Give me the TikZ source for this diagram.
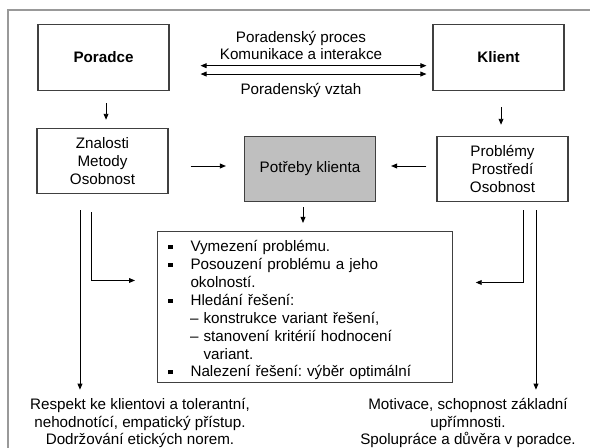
\documentclass[tikz,border=0pt]{standalone}
\usepackage{fontspec}
\setmainfont{Liberation Sans}
\usepackage{enumitem}
\usetikzlibrary{positioning,arrows.meta}
\frenchspacing

\begin{document}
\begin{tikzpicture}[x=0.75pt,y=-0.75pt,font=\fontsize{11.4}{13.4}\selectfont,
  >={Triangle[length=4.5pt,width=3.6pt]},
  box/.style={draw=black!75,line width=0.8pt,align=center,minimum width=98.25pt,minimum height=49pt,inner sep=0pt},
  link/.style={->,line width=0.7pt},
  lbl/.style={align=center,inner sep=0pt}]
\useasboundingbox (0,0) rectangle (590,448);
\draw[black!40,line width=1.2pt] (8,470) -- (8,10) -- (610,10);

\node[box] (poradce) at (103.5,57.5) {\textbf{Poradce}};
\node[box] (klient) at (498.5,57.5) {\textbf{Klient}};
\node[lbl] (proces) at (301,45.5) {Poradenský proces\\Komunikace a interakce};
\node[lbl] (vztah) at (301,90) {Poradenský vztah};
\node[box] (znalosti) at (102.5,161) {Znalosti\\Metody\\Osobnost};
\node[box,fill=black!25] (potreby) at (310,169) {Potřeby klienta};
\node[box] (problemy) at (502.5,169) {Problémy\\Prostředí\\Osobnost};
\node[draw=black!75,line width=0.8pt,anchor=north west,text width=213pt,minimum height=113.25pt,
  inner xsep=4pt,inner ysep=0pt] (reseni) at (157,231) {%
  \begin{itemize}[nosep,leftmargin=20.75pt,labelsep=13.5pt,label={\rule[2pt]{3.2pt}{3.2pt}}]
  \item Vymezení problému.
  \item Posouzení problému a jeho\newline okolností.
  \item Hledání řešení:
    \begin{itemize}[nosep,leftmargin=9.75pt,labelsep=3.75pt,label=--]
    \item konstrukce variant řešení,
    \item stanovení kritérií hodnocení\newline variant.
    \end{itemize}
  \item Nalezení řešení: výběr optimální
  \end{itemize}};
\node[lbl] (respekt) at (140,423) {Respekt ke klientovi a tolerantní,\\nehodnotící, empatický přístup.\\Dodržování etických norem.};
\node[lbl] (motivace) at (468,423) {Motivace, schopnost základní\\upřímnosti.\\Spolupráce a důvěra v poradce.};

\draw[<->,line width=0.7pt,shorten <=23.25pt,shorten >=4.5pt] ([yshift=-6.15pt]poradce.east) -- ([yshift=-6.15pt]klient.west);
\draw[<->,line width=0.7pt,shorten <=23.25pt,shorten >=4.5pt] ([yshift=-12.4pt]poradce.east) -- ([yshift=-12.4pt]klient.west);
\draw[link,shorten <=9.6pt,shorten >=6pt] ([xshift=1.9pt]poradce.south) -- ([xshift=1.9pt]poradce.south |- znalosti.north);
\draw[link,shorten <=12.5pt,shorten >=8.25pt] ([xshift=1.9pt]klient.south) -- ([xshift=1.9pt]klient.south |- problemy.north);
\draw[link,shorten <=16.5pt,shorten >=13.5pt] ([yshift=-3.75pt]znalosti.east) -- ([yshift=-3.75pt]znalosti.east -| potreby.west);
\draw[link,shorten <=7.5pt,shorten >=11.25pt] ([yshift=2.25pt]problemy.west) -- ([yshift=2.25pt]problemy.west -| potreby.east);
\draw[link,shorten <=3.75pt,shorten >=6pt] ([xshift=-5.25pt]potreby.south) -- ([xshift=-5.25pt]potreby.south |- reseni.north);
\draw[link,shorten <=12pt,shorten >=6pt] ([xshift=-16.9pt]znalosti.south) -- ([xshift=-16.9pt]znalosti.south |- respekt.north);
\draw[link,shorten <=13.5pt,shorten >=16.5pt] ([xshift=-8.6pt]znalosti.south) |- ([yshift=19.9pt]reseni.west);
\draw[link,shorten <=6pt,shorten >=17.25pt] ([xshift=15.4pt]problemy.south) |- ([yshift=18.4pt]reseni.east);
\draw[link,shorten <=6pt,shorten >=6pt] ([xshift=25.1pt]problemy.south) -- ([xshift=25.1pt]problemy.south |- motivace.north);
\end{tikzpicture}
\end{document}
